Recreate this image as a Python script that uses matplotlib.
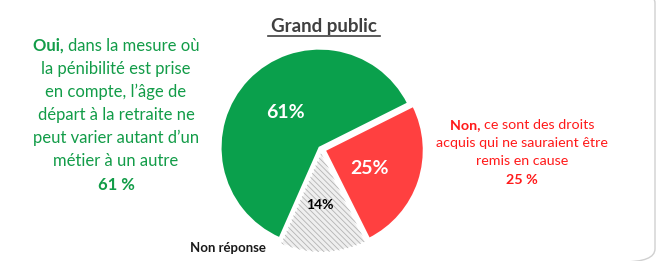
import matplotlib
matplotlib.use('Agg')
import matplotlib.pyplot as plt
from matplotlib.patches import FancyBboxPatch, Wedge
from matplotlib.lines import Line2D

# Données
labels = ['Oui', 'Non réponse', 'Non']
values = [61, 14, 25]
pct_labels = ['61%', '14%', '25%']
colors = ['#0aa04c', '#efefef', '#ff4040']
label_colors = ['white', 'black', 'white']
explode = [0.02, 0.04, 0.04]

title = 'Grand public'
oui_text = ['dans la mesure où', 'la pénibilité est prise', 'en compte, l\u2019âge de',
            'départ à la retraite ne', 'peut varier autant d\u2019un', 'métier à un autre']
non_text = ['ce sont des droits', 'acquis qui ne sauraient être', 'remis en cause']

plt.rcParams['font.family'] = ['Lato', 'DejaVu Sans']
plt.rcParams['hatch.linewidth'] = 0.6

W, H = 656, 261
fig = plt.figure(figsize=(W / 100, H / 100), dpi=100)
renderer = fig.canvas.get_renderer()


def fx(px):
    return px / W


def fy(py):
    return 1 - py / H


def mixed_line(cx, y, bold, rest, color, size):
    # ligne centrée : début en gras puis texte normal
    t1 = fig.text(0, fy(y), bold, color=color, fontsize=size, fontweight='bold',
                  ha='left', va='center')
    t2 = fig.text(0, fy(y), rest, color=color, fontsize=size, ha='left', va='center')
    w1 = t1.get_window_extent(renderer).width
    w2 = t2.get_window_extent(renderer).width
    x0 = cx - (w1 + w2) / 2
    t1.set_x(fx(x0))
    t2.set_x(fx(x0 + w1))


# cadre arrondi (seul le bord droit est visible)
box = FancyBboxPatch((fx(-40), fy(262)), fx(695), fy(-10) - fy(262),
                     boxstyle='round,pad=0,rounding_size=0.05',
                     transform=fig.transFigure, facecolor='none',
                     edgecolor='#d0d0d0', linewidth=1.0)
fig.patches.append(box)

# camembert
ax = fig.add_axes([fx(218), fy(253), fx(206), fy(45) - fy(253)])
wedges, _ = ax.pie(values, colors=colors, startangle=26.6, counterclock=True,
                   explode=explode, radius=1.0,
                   wedgeprops=dict(edgecolor='white', linewidth=1.5))
# hachures fines sur la part "Non réponse"
g = wedges[1]
ax.add_patch(Wedge(g.center, g.r, g.theta1, g.theta2, facecolor='none',
                   edgecolor='#b4b4b4', hatch='\\\\\\\\\\\\', linewidth=0))
ax.set_xlim(-1.04, 1.04)
ax.set_ylim(-1.04, 1.04)
ax.set_aspect('equal')
ax.axis('off')

# étiquettes des parts
pos = [(285, 112), (320, 205), (370, 168)]
sizes = [14, 10, 14]
for (px, py), t, c, s in zip(pos, pct_labels, label_colors, sizes):
    fig.text(fx(px), fy(py), t, color=c, fontsize=s, fontweight='bold',
             ha='center', va='center')

# titre souligné
fig.text(fx(324), fy(32), title, color='#404040', fontsize=13.5, fontweight='bold',
         ha='center', va='baseline')
fig.add_artist(Line2D([fx(268), fx(380)], [fy(35.5), fy(35.5)], color='#404040',
                      linewidth=1.2, transform=fig.transFigure))

# texte de gauche (Oui)
green_txt = '#129c48'
line_y = [46, 69, 92, 115, 138, 161]
mixed_line(116, line_y[0], 'Oui, ', oui_text[0], green_txt, 12)
for t, y in zip(oui_text[1:], line_y[1:]):
    fig.text(fx(116), fy(y), t, color=green_txt, fontsize=12, ha='center', va='center')
fig.text(fx(116), fy(185), '61 %', color=green_txt, fontsize=12, fontweight='bold',
         ha='center', va='center')

# texte de droite (Non)
red_txt = '#ff1a1a'
mixed_line(522, 125, 'Non, ', non_text[0], red_txt, 10.3)
for t, y in zip(non_text[1:], [143, 161]):
    fig.text(fx(522), fy(y), t, color=red_txt, fontsize=10.3, ha='center', va='center')
fig.text(fx(522), fy(180), '25 %', color=red_txt, fontsize=10.3, fontweight='bold',
         ha='center', va='center')

# Non réponse
fig.text(fx(228), fy(248), labels[1], color='#1a1a1a', fontsize=9.5, fontweight='bold',
         ha='center', va='center')

fig.savefig('out.png', dpi=100)
